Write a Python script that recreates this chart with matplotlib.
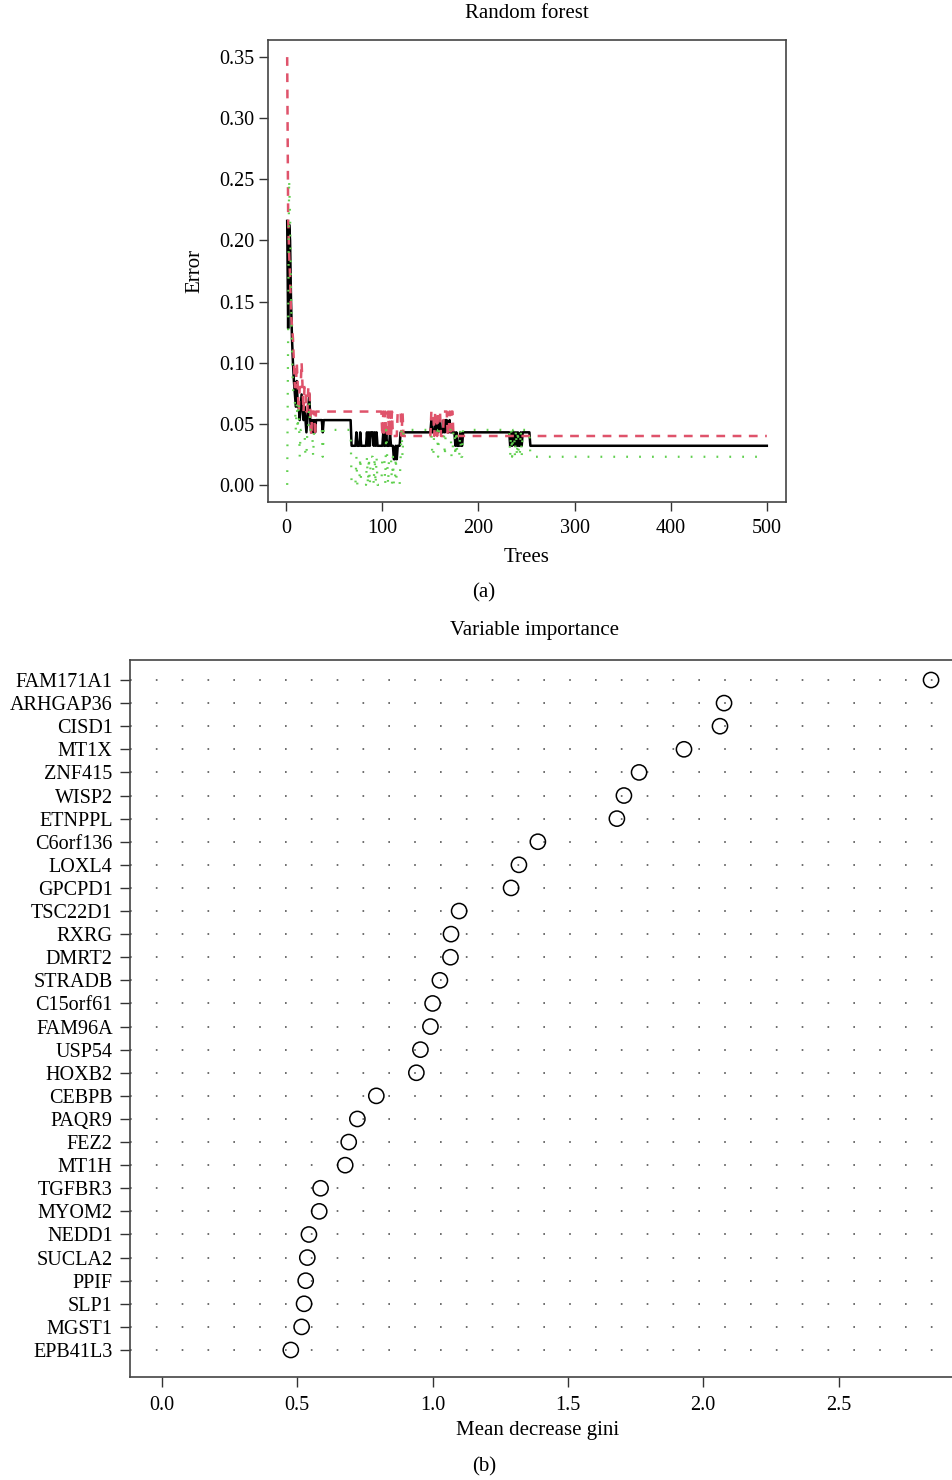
import numpy as np
import matplotlib.pyplot as plt

plt.rcParams['font.family'] = ['Liberation Serif', 'DejaVu Serif']
plt.rcParams['font.size'] = 14.5

# ---- panel (a): OOB error rate vs number of trees (step points: first tree, error) ----
n_trees = 500
oob_steps = [(1, .216), (2, .128), (3, .213), (4, .200), (5, .150), (6, .120), (7, .100), (8, .085),
             (9, .074), (10, .064), (11, .085), (12, .064), (14, .053), (15, .064), (16, .074), (17, .064),
             (18, .053), (19, .064), (20, .053), (21, .043), (22, .053), (23, .064), (24, .074), (25, .053),
             (26, .043), (27, .053), (28, .043), (29, .053), (30, .043), (31, .053), (38, .043), (39, .053),
             (68, .032), (73, .043), (74, .032), (77, .043), (78, .032), (84, .043), (85, .032), (86, .043),
             (87, .032), (88, .043), (91, .032), (92, .043), (93, .032), (94, .043), (95, .032), (101, .043),
             (102, .032), (104, .043), (105, .032), (108, .043), (109, .032), (112, .021), (114, .032),
             (115, .021), (116, .032), (119, .043), (151, .053), (152, .043), (155, .053), (157, .043),
             (159, .053), (161, .043), (164, .053), (165, .043), (166, .053), (168, .043), (170, .053),
             (171, .043), (176, .032), (177, .043), (178, .032), (181, .043), (182, .032), (184, .043),
             (233, .032), (234, .043), (235, .032), (236, .043), (238, .032), (239, .043), (240, .032),
             (241, .043), (242, .032), (244, .043), (245, .032), (246, .043), (254, .032)]
red_steps = [(1, .35), (2, .22), (3, .19), (4, .17), (5, .14), (6, .13), (7, .12), (8, .10), (9, .08),
             (11, .10), (12, .08), (13, .06), (14, .08), (16, .10), (17, .08), (18, .06), (19, .08),
             (21, .06), (23, .08), (25, .06), (26, .04), (27, .06), (30, .04), (31, .06),
             (100, .04), (101, .06), (102, .04), (103, .06), (104, .04), (106, .06), (107, .04), (108, .06),
             (109, .04), (110, .06), (111, .04), (116, .06), (120, .04), (121, .06), (122, .04),
             (151, .06), (154, .04), (155, .06), (157, .04), (158, .06), (161, .04), (164, .06), (168, .04),
             (170, .06), (171, .04), (172, .06), (174, .04)]
green_steps = [(1, 0.0), (2, .13), (3, .25), (4, .22), (5, .16), (6, .11), (7, .08), (8, .07), (9, .068),
               (10, .045), (11, .068), (12, .045), (13, .068), (14, .023), (15, .045), (20, .023), (22, .045),
               (24, .068), (25, .045), (28, .023), (29, .045), (38, .023), (39, .045),
               (68, 0.0), (73, .023), (74, 0.0), (77, .023), (78, 0.0), (84, .023), (85, 0.0), (86, .023),
               (87, 0.0), (88, .023), (91, 0.0), (92, .023), (93, 0.0), (94, .023), (95, 0.0), (100, .023),
               (103, 0.0), (104, .045), (105, .023), (106, 0.0), (107, .023), (110, 0.0), (111, .023),
               (112, 0.0), (114, .023), (115, 0.0), (119, .023), (120, .045), (121, .023), (122, .045),
               (152, .023), (154, .045), (158, .023), (159, .045), (165, .023), (166, .045), (172, .023),
               (174, .045), (176, .023), (177, .045), (178, .023), (181, .045), (182, .023), (184, .045),
               (233, .023), (234, .045), (235, .023), (236, .045), (238, .023), (239, .045), (240, .023),
               (241, .045), (242, .023), (244, .045), (245, .023), (246, .045), (254, .023)]

# ---- panel (b): variable importance ----
genes = ['FAM171A1', 'ARHGAP36', 'CISD1', 'MT1X', 'ZNF415', 'WISP2', 'ETNPPL', 'C6orf136', 'LOXL4',
         'GPCPD1', 'TSC22D1', 'RXRG', 'DMRT2', 'STRADB', 'C15orf61', 'FAM96A', 'USP54', 'HOXB2',
         'CEBPB', 'PAQR9', 'FEZ2', 'MT1H', 'TGFBR3', 'MYOM2', 'NEDD1', 'SUCLA2', 'PPIF', 'SLP1',
         'MGST1', 'EPB41L3']
gini = [2.842, 2.077, 2.062, 1.929, 1.763, 1.707, 1.681, 1.389, 1.319, 1.290, 1.098, 1.068, 1.066,
        1.027, 1.000, 0.992, 0.955, 0.940, 0.792, 0.722, 0.690, 0.677, 0.586, 0.581, 0.543, 0.537,
        0.531, 0.525, 0.516, 0.476]


def expand(steps):
    starts = [s for s, _ in steps] + [n_trees + 1]
    vals = [v for _, v in steps]
    return np.repeat(vals, np.diff(starts))


trees = np.arange(1, n_trees + 1)
W, H = 952, 1480
fig = plt.figure(figsize=(W / 100, H / 100), dpi=100)


def box(l, t, r, b):
    return [l / W, 1 - b / H, (r - l) / W, (b - t) / H]


ax1 = fig.add_axes(box(268, 40, 786, 502))
ax1.plot(trees, expand(oob_steps), color='black', lw=1.8)
ax1.plot(trees, expand(red_steps), color='#DF536B', lw=1.8, dashes=(3.5, 3))
ax1.plot(trees, expand(green_steps), color='#61D04F', lw=1.6, dashes=(0.8, 5))
ax1.set_xlim(-18.96, 519.96)
ax1.set_ylim(-0.014, 0.364)
ax1.set_xticks([0, 100, 200, 300, 400, 500])
ax1.set_yticks([0, .05, .10, .15, .20, .25, .30, .35])
ax1.set_yticklabels(['%.2f' % v for v in ax1.get_yticks()])
ax1.tick_params(length=6.5, width=1, color='#333', pad=3)
ax1.tick_params(axis='x', pad=6)
for s in ax1.spines.values():
    s.set_color('#444')
    s.set_linewidth(1.2)
fig.text(527 / W, 1 - 14 / H, 'Random forest', ha='center', va='center', fontsize=15)
ax1.set_xlabel('Trees', fontsize=15, labelpad=7)
ax1.set_ylabel('Error', fontsize=15, labelpad=11)
fig.text(484 / W, 1 - 593 / H, '(a)', ha='center', va='center', fontsize=15)

ax2 = fig.add_axes(box(130, 660, 955, 1377))
n = len(genes)
ypos = np.arange(n, 0, -1)
for y in ypos:
    ax2.axhline(y, color='#555', lw=1.2, dashes=(1, 14.5), zorder=1)
ax2.scatter(gini, ypos, s=120, facecolors='none', edgecolors='black', linewidths=1.1, zorder=3)
ax2.set_xlim((130 - 162) / 270.6, (955 - 162) / 270.6)
ax2.set_ylim(1 - 27 / 23.1, n + 20 / 23.1)
ax2.set_yticks(ypos)
ax2.set_yticklabels(genes)
ax2.set_xticks([0, 0.5, 1.0, 1.5, 2.0, 2.5])
ax2.set_xticklabels(['0.0', '0.5', '1.0', '1.5', '2.0', '2.5'])
ax2.tick_params(length=7.5, width=1, color='#333')
ax2.tick_params(axis='y', pad=5)
ax2.tick_params(axis='x', pad=6)
for s in ax2.spines.values():
    s.set_color('#444')
    s.set_linewidth(1.2)
fig.text(535 / W, 1 - 631 / H, 'Variable importance', ha='center', va='center', fontsize=15)
fig.text(538 / W, 1 - 1430 / H, 'Mean decrease gini', ha='center', va='center', fontsize=15)
fig.text(484 / W, 1 - 1467 / H, '(b)', ha='center', va='center', fontsize=15)

fig.savefig('out.png', dpi=100)
